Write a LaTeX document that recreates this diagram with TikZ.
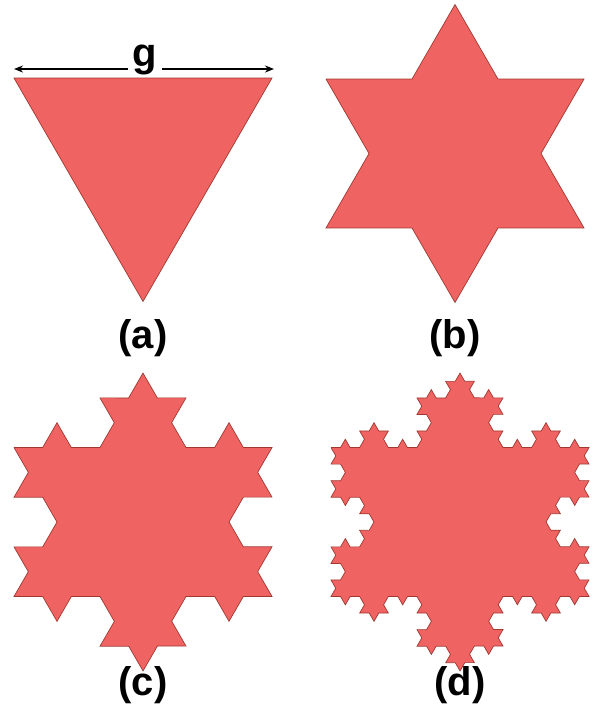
\documentclass[tikz,border=0pt]{standalone}
\usepackage{fontspec}
\setmainfont{Liberation Sans}
\usetikzlibrary{calc, arrows.meta, decorations.fractals}

\definecolor{flakered}{RGB}{240,99,99}
\definecolor{flakeedge}{RGB}{160,56,48}

\tikzset{
  flake/.style={fill=flakered, draw=flakeedge, line width=0.7pt, line join=miter},
  caption/.style={font=\fontsize{40}{41}\selectfont\bfseries, inner sep=0pt},
}

\begin{document}
\begin{tikzpicture}[x=1pt, y=1pt]
\useasboundingbox (0,0) rectangle (592,-723);

% triangle corners (clockwise, so the bumps point outwards)
\def\rad{148.96}
\foreach \nm/\cx/\cy in {a/143/-152.5, b/455/-153.5, c/143/-522, d/460/-522}{
  \coordinate (\nm1) at ($(\cx,\cy)+(150:\rad)$);
  \coordinate (\nm2) at ($(\cx,\cy)+(30:\rad)$);
  \coordinate (\nm3) at ($(\cx,\cy)+(-90:\rad)$);
}

% (a) plain triangle
\path[flake] (a1) -- (a2) -- (a3) -- cycle;

% (b) one step
\path[flake, decoration=Koch snowflake]
  decorate{ (b1) -- (b2) -- (b3) -- (b1) };

% (c) two steps
\path[flake, decoration=Koch snowflake]
  decorate{ decorate{ (c1) -- (c2) -- (c3) -- (c1) }};

% (d) three steps
\path[flake, decoration=Koch snowflake]
  decorate{ decorate{ decorate{ (d1) -- (d2) -- (d3) -- (d1) }}};

% side length
\coordinate (gl) at (14,-69);
\coordinate (gr) at (274,-69);
\draw[line width=1.8pt, {Stealth[length=9pt,width=7pt]}-{Stealth[length=9pt,width=7pt]}] (gl) -- (gr);
\node[caption, fill=white, anchor=base, inner xsep=5pt, inner ysep=3pt] (glabel) at (145,-66) {g};

% captions
\node[caption] (capa) at (143,-338) {(a)};
\node[caption] (capb) at (455,-338) {(b)};
\node[caption] (capc) at (143,-685) {(c)};
\node[caption] (capd) at (460,-685) {(d)};
\end{tikzpicture}
\end{document}
